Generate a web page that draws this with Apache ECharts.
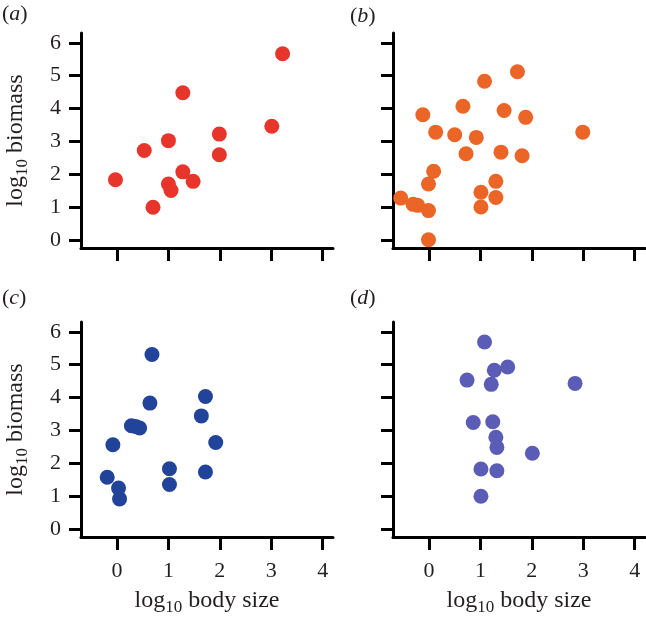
<!DOCTYPE html>
<html>
<head>
<meta charset="utf-8">
<script src="https://cdn.jsdelivr.net/npm/echarts@6/dist/echarts.min.js"></script>
<style>
html,body{margin:0;padding:0;background:#fff;}
#chart{width:646px;height:625px;}
</style>
</head>
<body>
<div id="chart"></div>
<script>
// Panel (a)
const aX = [-0.03, 0.53, 0.70, 1.00, 1.00, 1.05, 1.28, 1.28, 1.48, 1.99, 1.99, 3.01, 3.22];
const aY = [1.83, 2.72, 0.99, 3.02, 1.70, 1.50, 2.07, 4.48, 1.78, 3.22, 2.59, 3.46, 5.67];
// Panel (b)
const bX = [-0.55, -0.31, -0.22, -0.01, -0.01, -0.01, 0.09, -0.12, 0.13, 0.50, 0.66, 0.72, 0.92, 1.01, 1.01, 1.08, 1.30, 1.30, 1.40, 1.46, 1.72, 1.81, 1.88, 2.99];
const bY = [1.27, 1.08, 1.05, 1.70, 0.89, 0.00, 2.09, 3.81, 3.28, 3.20, 4.07, 2.62, 3.12, 1.45, 1.00, 4.83, 1.78, 1.29, 2.67, 3.94, 5.12, 2.56, 3.73, 3.28];
// Panel (c)
const cX = [-0.19, -0.08, 0.03, 0.05, 0.28, 0.36, 0.44, 0.64, 0.68, 1.02, 1.02, 1.64, 1.72, 1.72, 1.92];
const cY = [1.57, 2.56, 1.24, 0.91, 3.14, 3.12, 3.07, 3.83, 5.31, 1.83, 1.35, 3.44, 4.03, 1.73, 2.63];
// Panel (d)
const dX = [1.08, 1.27, 1.53, 0.74, 1.21, 2.84, 0.86, 1.24, 1.30, 1.32, 2.01, 1.01, 1.32, 1.01];
const dY = [5.69, 4.83, 4.93, 4.53, 4.40, 4.43, 3.24, 3.26, 2.79, 2.48, 2.30, 1.82, 1.77, 0.99];

const xTicks = [0, 1, 2, 3, 4];
const yTicks = [0, 1, 2, 3, 4, 5, 6];
const panelLabels = ['a', 'b', 'c', 'd'];
const xTitle = '{t|log}{s|10}{t| body size}';
const yTitle = '{t|log}{s|10}{t| biomass}';
const colors = ['#e8352b', '#ea6526', '#22439a', '#5b5cb5'];

const FONT = '"Liberation Serif", "DejaVu Serif", serif';
const TXT = '#231f20';
const rich = {
  t: {fontFamily: FONT, fontSize: 24, color: TXT, fontWeight: 'normal', verticalAlign: 'top', lineHeight: 27},
  s: {fontFamily: FONT, fontSize: 17, color: TXT, fontWeight: 'normal', verticalAlign: 'bottom', lineHeight: 17, padding: [13, 0, 0, 0]}
};

const grids = [
  {left: 80, top: 33, width: 253, height: 215},
  {left: 393, top: 33, width: 252, height: 215},
  {left: 80, top: 322, width: 253, height: 215},
  {left: 393, top: 322, width: 252, height: 215}
];

const axisLineStyle = {color: '#000', width: 3};

const xAxes = grids.map((g, i) => ({
  gridIndex: i, type: 'value', min: -0.7, max: 4.2,
  axisLine: {show: true, onZero: false, lineStyle: axisLineStyle},
  axisTick: {show: true, inside: false, length: 13, customValues: xTicks, lineStyle: {color: '#000', width: 3}},
  axisLabel: {show: i >= 2, customValues: xTicks, margin: 23, fontFamily: FONT, fontSize: 22, color: TXT},
  splitLine: {show: false},
  name: i >= 2 ? xTitle : '', nameLocation: 'middle', nameGap: 52,
  nameTextStyle: {rich: rich}
}));

const yAxes = grids.map((g, i) => ({
  gridIndex: i, type: 'value', min: -0.25, max: 6.3,
  axisLine: {show: true, onZero: false, lineStyle: axisLineStyle},
  axisTick: {show: true, inside: false, length: 12, customValues: yTicks, lineStyle: {color: '#000', width: 3}},
  axisLabel: {show: i % 2 === 0, customValues: yTicks, margin: 20, fontFamily: FONT, fontSize: 22, color: TXT},
  splitLine: {show: false},
  name: i % 2 === 0 ? yTitle : '', nameLocation: 'middle', nameGap: 50,
  nameTextStyle: {rich: rich}
}));

const xs = [aX, bX, cX, dX];
const ys = [aY, bY, cY, dY];
const series = xs.map((xv, i) => ({
  type: 'scatter', xAxisIndex: i, yAxisIndex: i,
  symbolSize: 15,
  itemStyle: {color: colors[i], opacity: 1},
  data: xv.map((x, k) => [x, ys[i][k]])
}));

const labelPos = [[2, 3], [350, 5], [2, 287], [350, 287]];
const titles = panelLabels.map((p, i) => ({
  text: '{n|(}{it|' + p + '}{n|)}',
  left: labelPos[i][0], top: labelPos[i][1], padding: 0,
  textStyle: {fontWeight: 'normal', rich: {
    n: {fontFamily: FONT, fontSize: 22, fontWeight: 'normal', color: TXT},
    it: {fontFamily: FONT, fontSize: 22, fontStyle: 'italic', fontWeight: 'normal', color: TXT}
  }}
}));

const chart = echarts.init(document.getElementById('chart'), null, {renderer: 'canvas'});
chart.setOption({
  animation: false,
  backgroundColor: '#fff',
  title: titles,
  grid: grids,
  xAxis: xAxes,
  yAxis: yAxes,
  series: series
});
</script>
</body>
</html>
